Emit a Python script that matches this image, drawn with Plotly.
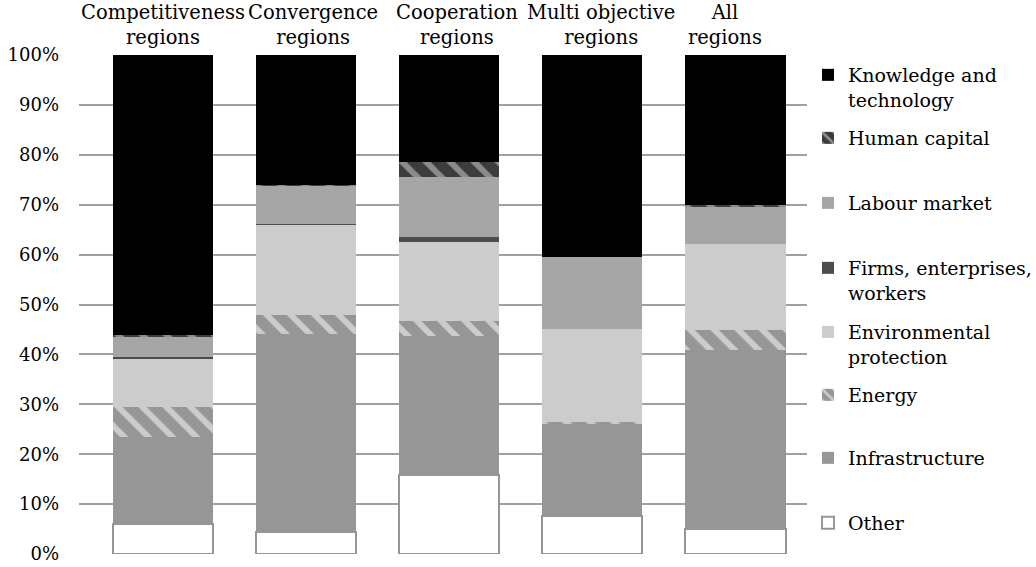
import plotly.graph_objects as go

# ---- data (percent shares) ----
categories = ["Competitiveness<br>regions", "Convergence<br>regions", "Cooperation<br>regions",
              "Multi objective<br>regions", "All<br>regions"]
other = [6.1, 4.5, 15.8, 7.6, 5.1]
infrastructure = [17.4, 39.6, 27.9, 18.5, 35.7]
energy = [6.0, 3.8, 3.0, 0.3, 4.0]
environmental = [9.5, 18.1, 15.9, 18.6, 17.3]
firms = [0.5, 0.1, 1.0, 0.0, 0.0]
labour = [4.0, 7.8, 12.0, 14.6, 7.6]
human_capital = [0.3, 0.1, 3.0, 0.0, 0.2]
knowledge = [56.2, 26.0, 21.4, 40.4, 30.1]
y_ticks = [0, 10, 20, 30, 40, 50, 60, 70, 80, 90, 100]
y_tick_labels = ["0%", "10%", "20%", "30%", "40%", "50%", "60%", "70%", "80%", "90%", "100%"]

FONT = "DejaVu Serif"
W, H = 1036, 567
PL, PR, PT, PB = 79, 807, 55, 554  # plot area, pixels

# stack order bottom -> top
series = [
    ("Other", other, "#ffffff", None, "legend8"),
    ("Infrastructure", infrastructure, "#969696", None, "legend7"),
    ("Energy", energy, "#969696", "#cccccc", "legend6"),
    ("Environmental<br>protection", environmental, "#cccccc", None, "legend5"),
    ("Firms, enterprises,<br>workers", firms, "#4d4d4d", None, "legend4"),
    ("Labour market", labour, "#a6a6a6", None, "legend3"),
    ("Human capital", human_capital, "#3c3c3c", "#8c8c8c", "legend2"),
    ("Knowledge and<br>technology", knowledge, "#000000", None, "legend"),
]

fig = go.Figure()
for name, vals, color, stripe, lg in series:
    marker = dict(color=color)
    if name == "Other":
        marker["line"] = dict(color="#969696", width=2)
    else:
        marker["line"] = dict(color=color, width=0)
    if stripe is not None:
        marker["pattern"] = dict(shape="\\", bgcolor=color, fgcolor=stripe,
                                 size=17, solidity=0.35, fillmode="replace")
    fig.add_trace(go.Bar(x=categories, y=vals, name=name, marker=marker,
                         legend=lg, showlegend=True, hoverinfo="name+y"))

# legend placement: swatch centre rows (pixels)
legend_rows = {"legend": 75, "legend2": 138, "legend3": 203, "legend4": 268,
               "legend5": 332, "legend6": 395, "legend7": 458, "legend8": 523}
legend_layout = {}
for lg, py in legend_rows.items():
    legend_layout[lg] = dict(
        x=(808 - PL) / (PR - PL), xanchor="left", xref="paper",
        y=(PB - (py - 19)) / (PB - PT), yanchor="top", yref="paper",
        bgcolor="rgba(0,0,0,0)", borderwidth=0, valign="top",
        font=dict(family=FONT, size=19, color="#000000"),
        itemclick=False, itemdoubleclick=False,
    )

# category labels above the plot
label_shift = [0, 7, 8, 9, -10]
annotations = []
for cat, dx in zip(categories, label_shift):
    annotations.append(dict(x=cat, xref="x", y=(PB - 24.5) / (PB - PT), yref="paper",
                            text=cat, showarrow=False, xshift=dx, yanchor="middle",
                            xanchor="center", align="center",
                            font=dict(family=FONT, size=19.5, color="#000000")))

fig.update_layout(
    width=W, height=H,
    barmode="stack", bargap=0.3,
    margin=dict(l=PL, r=W - PR, t=PT, b=H - PB, pad=0, autoexpand=False),
    paper_bgcolor="#ffffff", plot_bgcolor="#ffffff",
    font=dict(family=FONT, size=18, color="#000000"),
    annotations=annotations,
    **legend_layout,
)
fig.update_xaxes(type="category", showticklabels=False, showgrid=False,
                 zeroline=False, showline=False, ticks="", automargin=False)
fig.update_yaxes(range=[0, 100], tickvals=y_ticks, ticktext=y_tick_labels,
                 showgrid=True, gridcolor="#a0a0a0", gridwidth=2,
                 zeroline=False, showline=False, ticks="", automargin=False,
                 ticklabelstandoff=19,
                 tickfont=dict(family=FONT, size=18, color="#000000"))

fig.write_html("out.html", config={"displayModeBar": False},
               post_script="document.body.style.margin='0px';")
